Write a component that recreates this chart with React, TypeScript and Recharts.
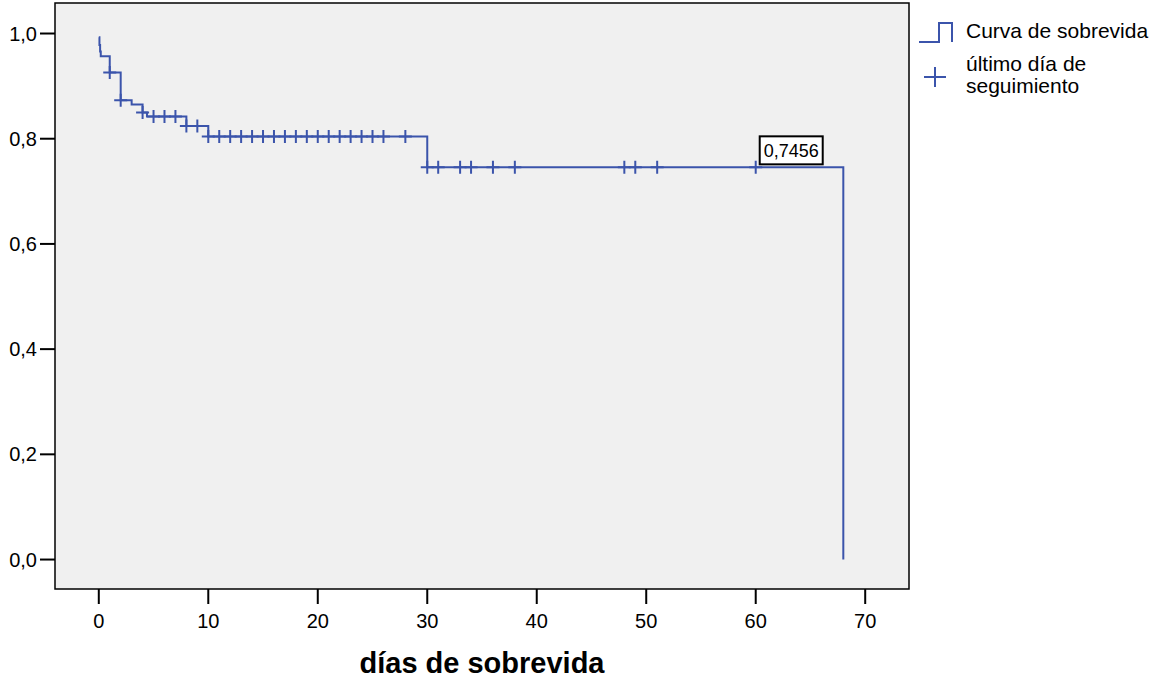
import {
  ComposedChart,
  Line,
  Scatter,
  XAxis,
  YAxis,
  ReferenceArea,
  ReferenceDot,
} from 'recharts';

// Kaplan-Meier steps (time in days, survival)
const survTimes = [0, 0.06, 0.12, 0.18, 1, 2, 3, 4, 4.4, 8, 10, 30, 68];
const survValues = [0.993, 0.978, 0.966, 0.957, 0.926, 0.873, 0.865, 0.85, 0.842, 0.824, 0.804, 0.7456, 0];

// censored cases ("último día de seguimiento")
const censorTimes = [
  1, 2, 4, 5, 6, 7, 8, 9,
  10, 11, 12, 13, 14, 15, 16, 17, 18, 19, 20, 21, 22, 23, 24, 25, 26, 28,
  30, 31, 33, 34, 36, 38, 48, 49, 51, 60,
];
const censorValues = [
  0.926, 0.873, 0.85, 0.842, 0.842, 0.842, 0.824, 0.824,
  0.804, 0.804, 0.804, 0.804, 0.804, 0.804, 0.804, 0.804, 0.804, 0.804, 0.804, 0.804, 0.804, 0.804, 0.804, 0.804, 0.804, 0.804,
  0.7456, 0.7456, 0.7456, 0.7456, 0.7456, 0.7456, 0.7456, 0.7456, 0.7456, 0.7456,
];

const xTicks = [0, 10, 20, 30, 40, 50, 60, 70];
const yTicks = [0, 0.2, 0.4, 0.6, 0.8, 1.0];

const labelTime = 60;
const labelValue = 0.7456;

const BLUE = '#3b54ab';
const FONT = '"Liberation Sans", Arial, Helvetica, sans-serif';

const survData = survTimes.map((t, i) => ({ t, s: survValues[i] }));
const censorData = censorTimes.map((t, i) => ({ t, s: censorValues[i] }));

function CensorMark(props: any) {
  const { cx, cy } = props;
  if (cx == null || cy == null) return null;
  return (
    <path
      d={`M${cx - 6.5},${cy} H${cx + 6.5} M${cx},${cy - 6.5} V${cy + 6.5}`}
      stroke={BLUE}
      strokeWidth={2}
      fill="none"
    />
  );
}

function ValueBox(props: any) {
  const { cx, cy } = props;
  if (cx == null || cy == null) return null;
  return (
    <g>
      <rect x={cx + 4} y={cy - 31} width={63} height={28} fill="#fff" stroke="#000" strokeWidth={2} />
      <text x={cx + 35.5} y={cy - 17} dy="0.36em" textAnchor="middle" fontSize={18} fill="#000">
        {labelValue.toFixed(4).replace('.', ',')}
      </text>
    </g>
  );
}

function LegendBox() {
  const txt = { position: 'absolute' as const, left: 966, fontSize: 21, lineHeight: '22px', whiteSpace: 'nowrap' as const };
  return (
    <div style={{ position: 'absolute', left: 0, top: 0, width: 1151, height: 120, pointerEvents: 'none' }}>
      <svg width={1151} height={120} style={{ position: 'absolute', left: 0, top: 0 }}>
        <path d="M919,42 H939 V23 H952 V42" stroke={BLUE} strokeWidth={2} fill="none" />
        <path d="M924,77 H946 M935,67 V87" stroke={BLUE} strokeWidth={2} fill="none" />
      </svg>
      <div style={{ ...txt, top: 20 }}>Curva de sobrevida</div>
      <div style={{ ...txt, top: 53 }}>
        último día de
        <br />
        seguimiento
      </div>
    </div>
  );
}

export default function App() {
  return (
    <div style={{ position: 'absolute', left: 0, top: 0, width: 1151, height: 680, fontFamily: FONT, background: '#fff' }}>
      <ComposedChart width={1151} height={680} margin={{ top: 3, right: 242, bottom: 0, left: 0 }}>
        <XAxis
          type="number"
          dataKey="t"
          domain={[-4, 74]}
          ticks={xTicks}
          allowDataOverflow
          axisLine={false}
          tickLine={{ stroke: '#000', strokeWidth: 2 }}
          tickSize={15}
          tickMargin={10}
          height={91}
          tick={{ fontSize: 20, fill: '#000' }}
          label={{ value: 'días de sobrevida', position: 'insideBottom', offset: 7, fontSize: 29, fontWeight: 'bold', fill: '#000' }}
        />
        <YAxis
          type="number"
          dataKey="s"
          domain={[-0.056, 1.058]}
          ticks={yTicks}
          allowDataOverflow
          axisLine={false}
          tickLine={{ stroke: '#000', strokeWidth: 2 }}
          tickSize={15}
          tickMargin={3}
          width={55}
          tick={{ fontSize: 20, fill: '#000' }}
          tickFormatter={(v: number) => v.toFixed(1).replace('.', ',')}
        />
        <ReferenceArea
          x1={-4}
          x2={74}
          y1={-0.056}
          y2={1.058}
          fill="#f0f0f0"
          fillOpacity={1}
          stroke="#000"
          strokeWidth={1.5}
          ifOverflow="visible"
        />
        <Line
          data={survData}
          type="stepAfter"
          dataKey="s"
          stroke={BLUE}
          strokeWidth={2}
          dot={false}
          activeDot={false}
          isAnimationActive={false}
        />
        <Scatter data={censorData} dataKey="s" shape={CensorMark} isAnimationActive={false} />
        <ReferenceDot x={labelTime} y={labelValue} shape={ValueBox} ifOverflow="visible" />
      </ComposedChart>
      <LegendBox />
    </div>
  );
}
